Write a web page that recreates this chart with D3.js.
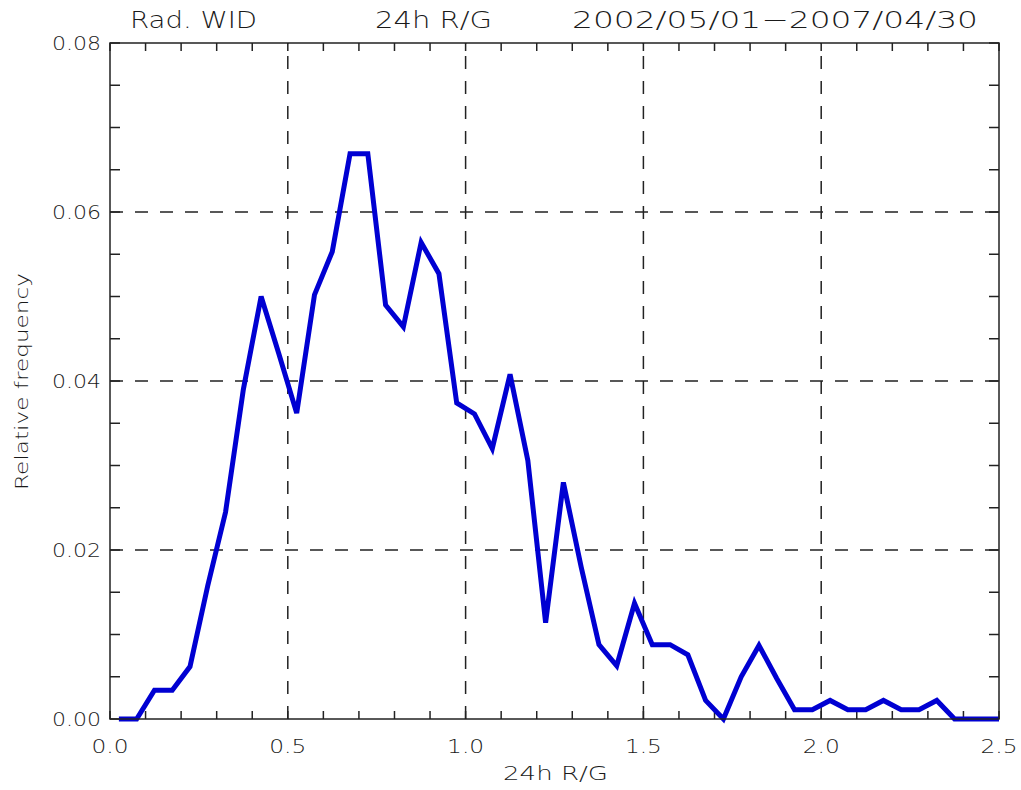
<!DOCTYPE html>
<html>
<head>
<meta charset="utf-8">
<script src="https://cdn.jsdelivr.net/npm/d3@7"></script>
<style>
  html, body { margin: 0; padding: 0; background: #fff; }
  svg { display: block; }
  text { font-family: "DejaVu Sans", sans-serif; font-weight: 200; fill: #1a1a1a; }
</style>
</head>
<body>
<svg id="chart" width="1021" height="790"></svg>
<script>
// Histogram of 24h R/G ratio (bin centres, relative frequency)
const ratioBins = [0.025, 0.075, 0.125, 0.175, 0.225, 0.275, 0.325, 0.375, 0.425, 0.475,
  0.525, 0.575, 0.625, 0.675, 0.725, 0.775, 0.825, 0.875, 0.925, 0.975,
  1.025, 1.075, 1.125, 1.175, 1.225, 1.275, 1.325, 1.375, 1.425, 1.475,
  1.525, 1.575, 1.625, 1.675, 1.725, 1.775, 1.825, 1.875, 1.925, 1.975,
  2.025, 2.075, 2.125, 2.175, 2.225, 2.275, 2.325, 2.375, 2.425, 2.475, 2.525];
const relFreq = [0.0, 0.0, 0.0034, 0.0034, 0.0062, 0.0158, 0.0245, 0.0390, 0.0500, 0.0432,
  0.0362, 0.0502, 0.0553, 0.0669, 0.0669, 0.0490, 0.0464, 0.0564, 0.0527, 0.0374,
  0.0361, 0.0320, 0.0408, 0.0306, 0.0114, 0.0280, 0.0180, 0.0088, 0.0063, 0.0137,
  0.0088, 0.0088, 0.0076, 0.0022, 0.0, 0.0050, 0.0087, 0.0048, 0.0011, 0.0011,
  0.0022, 0.0011, 0.0011, 0.0022, 0.0011, 0.0011, 0.0022, 0.0, 0.0, 0.0, 0.0];

const xMajor = [0.0, 0.5, 1.0, 1.5, 2.0, 2.5];
const xMajorLabels = ["0.0", "0.5", "1.0", "1.5", "2.0", "2.5"];
const yMajor = [0.00, 0.02, 0.04, 0.06, 0.08];
const yMajorLabels = ["0.00", "0.02", "0.04", "0.06", "0.08"];
const xMinor = d3.range(0, 26).map(i => i / 10);
const yMinor = d3.range(0, 17).map(i => i * 0.005);

const titleParts = ["Rad. WID", "24h R/G", "2002/05/01\u22122007/04/30"];
const xTitle = "24h R/G";
const yTitle = "Relative frequency";

const svg = d3.select("#chart");
const L = 110, R = 999, T = 43, B = 719;

const x = d3.scaleLinear().domain([0, 2.5]).range([L, R]);
const y = d3.scaleLinear().domain([0, 0.08]).range([B, T]);

svg.append("defs").append("clipPath").attr("id", "plotClip")
  .append("rect").attr("x", L).attr("y", T - 5).attr("width", R - L).attr("height", B - T + 10);

// dashed grid at major ticks
const grid = svg.append("g").attr("stroke", "#222").attr("stroke-width", 1.5)
  .attr("stroke-dasharray", "13,12");
grid.selectAll("line.gx").data(xMajor.slice(1, -1)).join("line")
  .attr("class", "gx")
  .attr("x1", d => x(d)).attr("x2", d => x(d)).attr("y1", B).attr("y2", T);
grid.selectAll("line.gy").data(yMajor.slice(1, -1)).join("line")
  .attr("class", "gy")
  .attr("x1", L).attr("x2", R).attr("y1", d => y(d)).attr("y2", d => y(d));

// minor ticks on all four sides
const ticks = svg.append("g").attr("stroke", "#222").attr("stroke-width", 1.5);
const xTickLen = 8, yTickLen = 10;
ticks.selectAll("line.xb").data(xMinor).join("line").attr("class", "xb")
  .attr("x1", d => x(d)).attr("x2", d => x(d)).attr("y1", B).attr("y2", B - xTickLen);
ticks.selectAll("line.xt").data(xMinor).join("line").attr("class", "xt")
  .attr("x1", d => x(d)).attr("x2", d => x(d)).attr("y1", T).attr("y2", T + xTickLen);
ticks.selectAll("line.yl").data(yMinor).join("line").attr("class", "yl")
  .attr("x1", L).attr("x2", L + yTickLen).attr("y1", d => y(d)).attr("y2", d => y(d));
ticks.selectAll("line.yr").data(yMinor).join("line").attr("class", "yr")
  .attr("x1", R).attr("x2", R - yTickLen).attr("y1", d => y(d)).attr("y2", d => y(d));

// data line
const line = d3.line().x((d, i) => x(ratioBins[i])).y(d => y(d));
svg.append("path").datum(relFreq)
  .attr("clip-path", "url(#plotClip)")
  .attr("d", line)
  .attr("fill", "none")
  .attr("stroke", "#0000d2")
  .attr("stroke-width", 5)
  .attr("stroke-linejoin", "miter")
  .attr("stroke-miterlimit", 3);

// frame
svg.append("rect").attr("x", L).attr("y", T).attr("width", R - L).attr("height", B - T)
  .attr("fill", "none").attr("stroke", "#222").attr("stroke-width", 1.5);

// tick labels
svg.append("g").selectAll("text").data(xMajor).join("text")
  .attr("x", d => x(d) - 18.5).attr("y", 753)
  .attr("font-size", 20).attr("textLength", 37).attr("lengthAdjust", "spacingAndGlyphs")
  .text((d, i) => xMajorLabels[i]);
svg.append("g").selectAll("text").data(yMajor).join("text")
  .attr("x", 52).attr("y", d => y(d) + 7)
  .attr("font-size", 19).attr("textLength", 49).attr("lengthAdjust", "spacingAndGlyphs")
  .text((d, i) => yMajorLabels[i]);

// axis titles
svg.append("text").attr("x", 503).attr("y", 780)
  .attr("font-size", 19).attr("textLength", 105).attr("lengthAdjust", "spacingAndGlyphs")
  .text(xTitle);
svg.append("text").attr("transform", "translate(28,490) rotate(-90)")
  .attr("font-size", 18).attr("textLength", 217).attr("lengthAdjust", "spacingAndGlyphs")
  .text(yTitle);

// title
const titleX = [130, 375, 572];
const titleW = [127, 117, 406];
svg.append("g").selectAll("text").data(titleParts).join("text")
  .attr("x", (d, i) => titleX[i]).attr("y", 28)
  .attr("font-size", 23)
  .attr("textLength", (d, i) => titleW[i]).attr("lengthAdjust", "spacingAndGlyphs")
  .text(d => d);
</script>
</body>
</html>
